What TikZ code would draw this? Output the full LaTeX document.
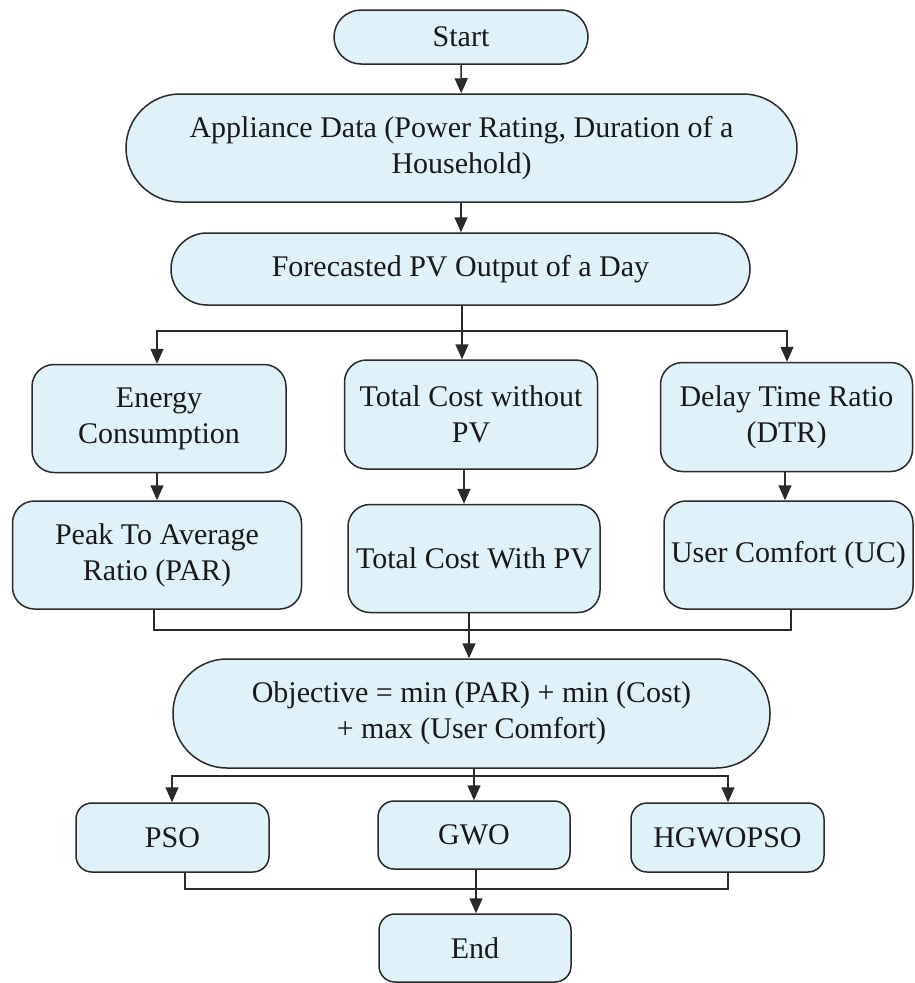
\documentclass[tikz,border=0pt]{standalone}
\usepackage{fontspec}
\setmainfont{Liberation Serif}
\usetikzlibrary{arrows.meta}
\definecolor{boxfill}{HTML}{DFF2F9}
\definecolor{linec}{HTML}{2A2A2A}
\begin{document}
\begin{tikzpicture}[x=1pt,y=-1pt,
  box/.style={draw=linec, line width=1.5pt, fill=boxfill, align=center, inner sep=0pt,
    font=\fontsize{30}{36}\selectfont, text=black!90},
  conn/.style={draw=linec, line width=1.5pt},
  arr/.style={conn, -{Triangle[length=15pt,width=13pt]}}]
\useasboundingbox (0,0) rectangle (914,983);
\fill[white] (0,0) rectangle (914,983);
% nodes
\node[box, minimum width=254pt, minimum height=54pt, rounded corners=27pt] (S) at (461,37) {Start};
\node[box, minimum width=671pt, minimum height=108pt, rounded corners=54pt] (A) at (461.5,148) {Appliance Data (Power Rating, Duration of a\\Household)};
\node[box, minimum width=579pt, minimum height=72pt, rounded corners=36pt] (F) at (460.5,269) {Forecasted PV Output of a Day};
\node[box, minimum width=254pt, minimum height=108pt, rounded corners=22pt] (E) at (159,418.5) {Energy\\Consumption};
\node[box, minimum width=253pt, minimum height=109pt, rounded corners=22pt] (T) at (471,414.5) {Total Cost without\\PV};
\node[box, minimum width=252pt, minimum height=109pt, rounded corners=22pt] (D) at (786.5,417) {Delay Time Ratio\\(DTR)};
\node[box, minimum width=289pt, minimum height=108pt, rounded corners=22pt] (P) at (157,555) {Peak To Average\\Ratio (PAR)};
\node[box, minimum width=252pt, minimum height=108pt, rounded corners=22pt] (W) at (474,558.5) {Total Cost With PV};
\node[box, minimum width=249pt, minimum height=108pt, rounded corners=22pt] (U) at (788.5,555) {User Comfort (UC)};
\node[box, minimum width=597pt, minimum height=109pt, rounded corners=54pt] (O) at (471.5,713.5) {Objective = min (PAR) + min (Cost)\\+ max (User Comfort)};
\node[box, minimum width=193pt, minimum height=69pt, rounded corners=16pt] (PSO) at (172.5,837.5) {PSO};
\node[box, minimum width=192pt, minimum height=68pt, rounded corners=16pt] (GWO) at (474,835) {GWO};
\node[box, minimum width=193pt, minimum height=69pt, rounded corners=16pt] (H) at (727.5,837.5) {HGWOPSO};
\node[box, minimum width=192pt, minimum height=68pt, rounded corners=16pt] (End) at (475,948) {End};
% junction coordinates
\coordinate (b1) at (462,331);
\coordinate (m1) at (469,630);
\coordinate (b2) at (474,776);
\coordinate (m2) at (476,889);
% connectors
\draw[arr] (S) -- (A);
\draw[arr] (A.south -| S.south) -- (F.north -| S.south);
\draw[conn] (F.south -| b1) -- (b1);
\draw[arr] (b1) -| (157,0 |- E.north);
\draw[arr] (b1) -| (787,0 |- D.north);
\draw[arr] (b1) -- (b1 |- T.north);
\draw[arr] (157,0 |- E.south) -- (157,0 |- P.north);
\draw[arr] (464,0 |- T.south) -- (464,0 |- W.north);
\draw[arr] (785,0 |- D.south) -- (785,0 |- U.north);
\draw[conn] (154,0 |- P.south) |- (m1) -| (791,0 |- U.south);
\draw[conn] (m1 |- W.south) -- (m1);
\draw[arr] (m1) -- (m1 |- O.north);
\draw[conn] (O.south -| b2) -- (b2);
\draw[arr] (b2) -| (172,0 |- PSO.north);
\draw[arr] (b2) -| (728,0 |- H.north);
\draw[arr] (b2) -- (b2 |- GWO.north);
\draw[conn] (185,0 |- PSO.south) |- (m2) -| (728,0 |- H.south);
\draw[conn] (m2 |- GWO.south) -- (m2);
\draw[arr] (m2) -- (m2 |- End.north);
\end{tikzpicture}
\end{document}
